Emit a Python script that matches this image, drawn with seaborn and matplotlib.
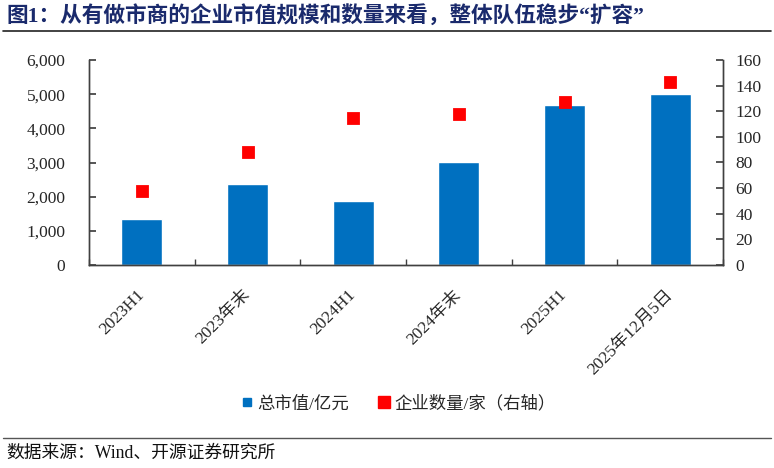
import numpy as np
import matplotlib
matplotlib.use('Agg')
import matplotlib.pyplot as plt
from matplotlib.lines import Line2D
from matplotlib.ticker import FuncFormatter, MultipleLocator, FixedLocator
import seaborn as sns

# 数据
categories = ['2023H1', '2023年末', '2024H1', '2024年末', '2025H1', '2025年12月5日']
market_cap = [1340, 2360, 1870, 3020, 4680, 5000]      # 总市值/亿元
company_count = [58, 88, 115, 118, 127, 143]          # 企业数量/家（右轴）

title_text = '图1：从有做市商的企业市值规模和数量来看，整体队伍稳步“扩容”'
source_text = '数据来源：Wind、开源证券研究所'

sns.set_theme(style='white')
plt.rcParams['font.family'] = ['Liberation Serif', 'Noto Sans CJK SC']
plt.rcParams['axes.unicode_minus'] = False

BAR_COLOR = '#0070C0'
DOT_COLOR = '#FF0000'
TITLE_COLOR = '#1A2A6C'
AXIS_COLOR = '#404040'

fig = plt.figure(figsize=(7.74, 4.68), dpi=100)
ax = fig.add_axes([89 / 774, 1 - 265 / 468, 634 / 774, 205 / 468])

sns.barplot(x=categories, y=market_cap, color=BAR_COLOR, width=0.39,
            saturation=1, ax=ax)
ax.set_xlim(-0.5, len(categories) - 0.5)
ax.set_ylim(0, 6000)
ax.yaxis.set_major_locator(MultipleLocator(1000))
ax.yaxis.set_major_formatter(FuncFormatter(lambda v, p: f'{int(v):,}'))

ax2 = ax.twinx()
sns.pointplot(x=categories, y=company_count, color=DOT_COLOR, markers='s',
              linestyle='none', markersize=6.5, ax=ax2)
ax2.set_xlim(-0.5, len(categories) - 0.5)
ax2.set_ylim(0, 160)
ax2.yaxis.set_major_locator(MultipleLocator(20))

for a in (ax, ax2):
    a.spines['top'].set_visible(False)
    for s in ['left', 'right', 'bottom']:
        a.spines[s].set_color(AXIS_COLOR)
        a.spines[s].set_linewidth(1.0)
    a.set_xlabel('')
    a.set_ylabel('')
    a.grid(False)

ax.tick_params(axis='y', direction='in', length=5, color=AXIS_COLOR,
               labelsize=12.5, pad=17, left=True)
ax2.tick_params(axis='y', direction='in', length=5, color=AXIS_COLOR,
                labelsize=12.5, pad=9, right=True)

# x轴：类别之间的刻度
ax.xaxis.set_minor_locator(FixedLocator(np.arange(-0.5, len(categories), 1.0)))
ax.tick_params(axis='x', which='minor', direction='in', length=4,
               color=AXIS_COLOR, bottom=True)
ax.tick_params(axis='x', which='major', length=0, pad=20, labelsize=12.5)
for lbl in ax.get_xticklabels():
    lbl.set_rotation(45)
    lbl.set_ha('right')
    lbl.set_va('center')
    lbl.set_rotation_mode('anchor')
ax2.tick_params(axis='x', which='both', length=0, labelbottom=False)

# 图例
handles = [
    Line2D([], [], marker='s', linestyle='none', color=BAR_COLOR, markersize=6),
    Line2D([], [], marker='s', linestyle='none', color=DOT_COLOR, markersize=8),
]
fig.legend(handles, ['总市值/亿元', '企业数量/家（右轴）'], loc='center',
           bbox_to_anchor=(398 / 774, 1 - 404 / 468), ncol=2, frameon=False,
           fontsize=12.5, handletextpad=0.2, columnspacing=1.6, handlelength=0.8)

# 标题与来源
fig.text(6 / 774, 1 - 16 / 468, title_text, fontsize=15.6, fontweight='bold',
         color=TITLE_COLOR, ha='left', va='center')
fig.add_artist(Line2D([3 / 774, 771 / 774], [1 - 31 / 468, 1 - 31 / 468],
                      color='#222222', linewidth=1.2))
fig.add_artist(Line2D([3 / 774, 771 / 774], [1 - 438 / 468, 1 - 438 / 468],
                      color='#555555', linewidth=1.0))
fig.text(6 / 774, 1 - 453 / 468, source_text, fontsize=12.8, color='#111111',
         ha='left', va='center')

fig.savefig('out.png', dpi=100)
